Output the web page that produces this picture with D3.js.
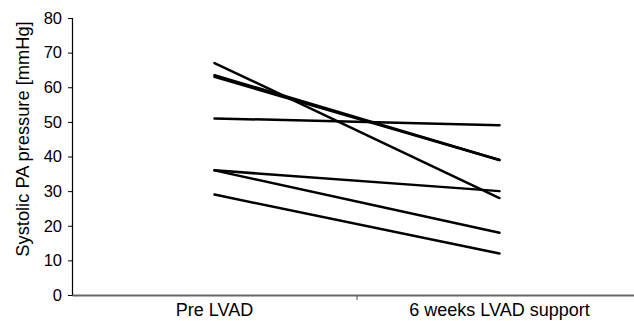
<!DOCTYPE html>
<meta charset="utf-8">
<script src="https://cdn.jsdelivr.net/npm/d3@7"></script>
<style>
    body { margin: 0; background: #fff; }
    text { font-family: "Liberation Sans", Arial, sans-serif; fill: #000; }
    .pt { fill: none; stroke: #000; stroke-width: 2.5; stroke-linecap: round; }
</style>
<body>
<script>
    // time points
    const phases = ["Pre LVAD", "6 weeks LVAD support"];
    // systolic PA pressure per patient [pre, 6 weeks]
    const patientA = [67, 28];
    const patientB = [63.5, 39];
    const patientC = [63, 39];
    const patientD = [51, 49];
    const patientE = [36, 30];
    const patientF = [36, 18];
    const patientG = [29, 12];
    const yTicks = [0, 10, 20, 30, 40, 50, 60, 70, 80];

    const patients = [patientA, patientB, patientC, patientD, patientE, patientF, patientG];

    const width = 634, height = 321;
    const svg = d3.select("body").append("svg")
        .attr("width", width)
        .attr("height", height);

    const x = d3.scaleBand().domain(phases).range([72, 642]);
    const y = d3.scaleLinear().domain([0, 80]).range([295, 18]);

    // y axis
    const yAxis = svg.append("g")
        .attr("transform", "translate(72,0)")
        .call(d3.axisLeft(y).tickValues(yTicks).tickSize(4).tickPadding(6));
    yAxis.select(".domain").attr("stroke", "#000").attr("stroke-width", 1.2);
    yAxis.selectAll(".tick line").attr("stroke", "#000");
    yAxis.selectAll("text").style("font-size", "16.5px");

    // x axis
    const xAxis = svg.append("g")
        .attr("transform", "translate(0,295)")
        .call(d3.axisBottom(x).tickSize(0).tickPadding(8));
    xAxis.select(".domain").attr("stroke", "#666").attr("stroke-width", 2);
    xAxis.selectAll("text").style("font-size", "18px");

    // separator tick between categories
    svg.append("line")
        .attr("x1", x(phases[1])).attr("x2", x(phases[1]))
        .attr("y1", 295).attr("y2", 300)
        .attr("stroke", "#666").attr("stroke-width", 1.2);

    // axis title
    svg.append("text")
        .attr("transform", "translate(29,139) rotate(-90)")
        .attr("text-anchor", "middle")
        .style("font-size", "18.3px")
        .text("Systolic PA pressure [mmHg]");

    const line = d3.line()
        .x((d, i) => x(phases[i]) + x.bandwidth() / 2)
        .y(d => y(d));

    svg.append("g")
        .selectAll("path")
        .data(patients)
        .enter().append("path")
        .attr("class", "pt")
        .attr("d", line);
</script>
</body>
</html>
